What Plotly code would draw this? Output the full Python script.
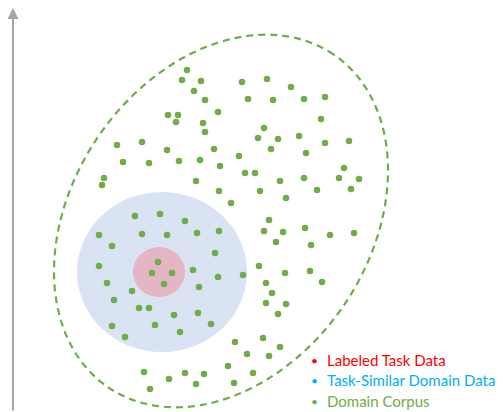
import numpy as np
import plotly.graph_objects as go

# ---- data (points of the domain corpus, screen-like coordinates) ----
corpus_x = [187, 182, 201, 194, 205, 242, 248, 218, 168, 178, 176, 203, 205, 258, 117, 142, 167, 214,
            123, 149, 179, 200, 220, 239, 245, 255, 104, 102, 196, 219, 260, 231,
            267, 291, 273, 304, 325, 321, 264, 278, 299, 271, 306, 325, 349, 280, 304, 286, 317,
            339, 344, 359, 351,
            135, 160, 185, 99, 142, 167, 197, 219, 112, 215, 99, 158, 152, 172, 164, 193, 218, 243,
            107, 132, 199, 114, 139, 149, 174, 198, 112, 155, 180, 211, 125, 235, 247, 228, 144,
            169, 185, 204, 196, 234, 253, 150,
            269, 264, 283, 305, 330, 354, 276, 311, 259, 285, 310, 322, 266, 272, 266, 286, 278,
            263, 280, 269]
corpus_y = [70, 80, 81, 91, 100, 82, 99, 112, 115, 115, 122, 123, 132, 138, 145, 142, 150, 149,
            162, 163, 161, 160, 166, 156, 173, 173, 178, 185, 181, 191, 191, 203,
            79, 87, 100, 99, 97, 119, 128, 139, 136, 149, 153, 143, 141, 181, 178, 198, 190,
            178, 168, 179, 189,
            216, 214, 221, 235, 234, 235, 233, 231, 246, 253, 266, 262, 273, 273, 284, 270, 277, 275,
            283, 291, 287, 300, 308, 308, 315, 313, 326, 325, 332, 324, 337, 342, 354, 366, 372,
            379, 373, 374, 384, 383, 373, 389,
            220, 231, 232, 228, 235, 233, 242, 245, 266, 273, 271, 282, 283, 293, 303, 304, 314,
            338, 347, 356]

legend_labels = ["Labeled Task Data", "Task-Similar Domain Data", "Domain Corpus"]
legend_colors = ["#FF0000", "#00B0F0", "#70AD47"]

# region geometry
corpus_center = (221, 221)
corpus_axes = (201, 149)
corpus_angle_deg = 56
similar_box = (77, 192, 247, 352)
labeled_box = (133, 247, 185, 297)

W, H = 503, 412
green = "#70AD47"

fig = go.Figure()
fig.add_trace(go.Scatter(
    x=corpus_x, y=corpus_y, mode="markers",
    marker=dict(size=6.5, color=green, line=dict(width=0)),
    showlegend=False, hoverinfo="skip"))

# dashed rotated ellipse
t = np.linspace(0, 2 * np.pi, 240)
th = np.radians(corpus_angle_deg)
a, b = corpus_axes
cx, cy = corpus_center
ex = cx + a * np.cos(t) * np.cos(th) - b * np.sin(t) * np.sin(th)
ey = cy - (a * np.cos(t) * np.sin(th) + b * np.sin(t) * np.cos(th))
path = "M " + " L ".join(f"{x:.2f},{y:.2f}" for x, y in zip(ex, ey)) + " Z"

shapes = [
    dict(type="circle", xref="x", yref="y", x0=similar_box[0], y0=similar_box[1],
         x1=similar_box[2], y1=similar_box[3], fillcolor="#DAE3F3",
         line=dict(width=0), layer="below"),
    dict(type="circle", xref="x", yref="y", x0=labeled_box[0], y0=labeled_box[1],
         x1=labeled_box[2], y1=labeled_box[3], fillcolor="#E4B6C4",
         line=dict(width=0), layer="below"),
    dict(type="path", xref="x", yref="y", path=path,
         line=dict(color=green, width=2.2, dash="7px,5px"), layer="below"),
]

annotations = [
    dict(x=13, y=8, ax=13, ay=412, xref="x", yref="y", axref="x", ayref="y",
         text="", showarrow=True, arrowhead=2, arrowsize=1.1, arrowwidth=2,
         arrowcolor="#A6A6A6"),
]
legend_y = [360, 380, 401]
for lbl, col, yy in zip(legend_labels, legend_colors, legend_y):
    annotations.append(dict(x=314, y=yy, xref="x", yref="y", text="•", showarrow=False,
                            xanchor="center", yanchor="middle",
                            font=dict(family="Lato", size=12, color=col)))
    annotations.append(dict(x=325, y=yy, xref="x", yref="y", text=lbl, showarrow=False,
                            xanchor="left", yanchor="middle",
                            font=dict(family="Lato", size=15, color=col)))

fig.update_layout(
    width=W, height=H, margin=dict(l=0, r=0, t=0, b=0),
    paper_bgcolor="white", plot_bgcolor="white",
    xaxis=dict(range=[0, W], visible=False, fixedrange=True),
    yaxis=dict(range=[H, 0], visible=False, fixedrange=True),
    shapes=shapes, annotations=annotations, showlegend=False,
)
fig.write_html("out.html", config={"displayModeBar": False},
               post_script="document.body.style.margin='0';document.body.style.overflow='hidden';")
